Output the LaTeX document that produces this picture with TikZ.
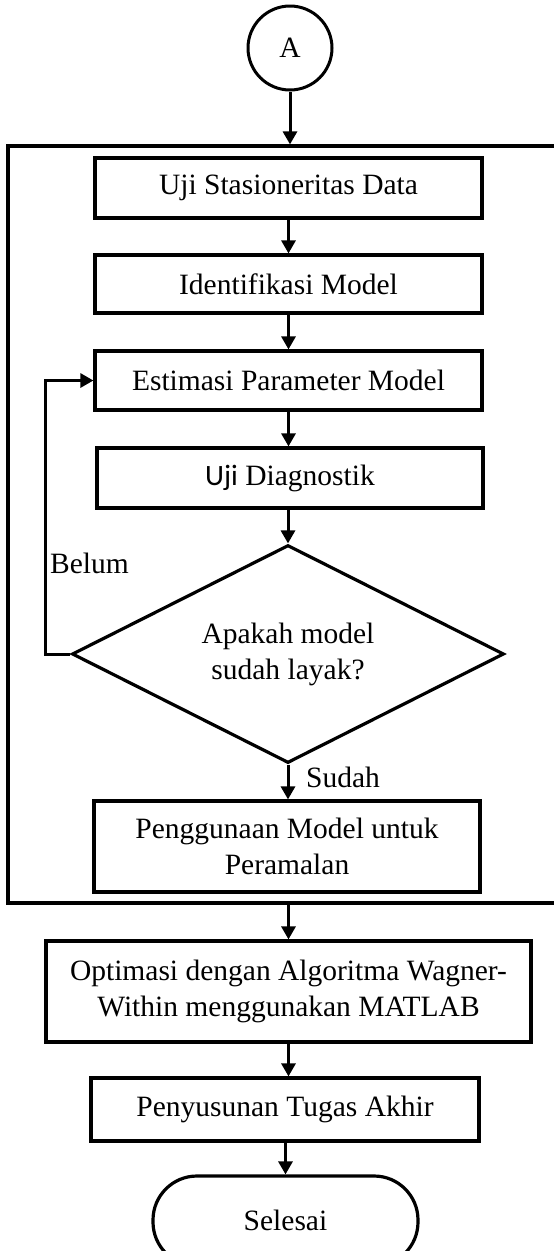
\documentclass[tikz,border=0pt]{standalone}
\usepackage{fontspec}
\setmainfont{Liberation Serif}
\newfontfamily\calib{Carlito}
\usetikzlibrary{arrows.meta,shapes.geometric}
\begin{document}
\begin{tikzpicture}[x=1pt,y=-1pt,
  txt/.style={font=\fontsize{29.5}{36}\selectfont},
  box/.style={draw, line width=3.2pt, align=center, inner sep=0pt, txt},
  arr/.style={-{Triangle[width=14pt,length=13pt]}, line width=3pt},
  lbl/.style={txt, inner sep=0pt}]
\useasboundingbox (0,0) rectangle (554,1251);
\clip (0,0) rectangle (554,1251);

% frame
\node[draw, line width=3.2pt, minimum width=562pt, minimum height=757pt, inner sep=0pt] (frame) at (289,524.5) {};

% start connector
\node[draw, circle, line width=3pt, minimum size=84pt, inner sep=0pt, txt] (A) at (290,48) {A};

% process boxes
\node[box, minimum width=387pt, minimum height=60pt] (b1) at (288.5,188) {Uji Stasioneritas Data};
\node[box, minimum width=387pt, minimum height=58pt] (b2) at (288.5,284) {Identifikasi Model};
\node[box, minimum width=387pt, minimum height=59pt] (b3) at (288.5,380.5) {Estimasi Parameter Model};
\node[box, minimum width=386pt, minimum height=60pt] (b4) at (290,478) {{\calib Uji} Diagnostik};
\node[draw, diamond, aspect=2, line width=3.2pt, minimum width=432pt, minimum height=218pt, inner sep=0pt, align=center, txt] (dia) at (288,654) {Apakah model\\sudah layak?};
\node[box, minimum width=386pt, minimum height=91pt] (b5) at (287,846.5) {Penggunaan Model untuk\\Peramalan};
\node[box, minimum width=485pt, minimum height=101pt] (b6) at (288.5,991.5) {Optimasi dengan Algoritma Wagner-\\Within menggunakan MATLAB};
\node[box, minimum width=388pt, minimum height=63pt] (b7) at (285,1109.5) {Penyusunan Tugas Akhir};
\node[draw, line width=3.2pt, rounded corners=44pt, minimum width=265pt, minimum height=90pt, inner sep=0pt, txt] (end) at (285.5,1221) {\raisebox{2pt}{Selesai}};

% labels
\node[lbl, anchor=west] (belum) at (50,563) {Belum};
\node[lbl, anchor=west] (sudah) at (306,777) {Sudah};

% connectors
\draw[arr] (A.south) -- (A.south |- frame.north);
\draw[arr] (b1.south) -- (b1.south |- b2.north);
\draw[arr] (b2.south) -- (b2.south |- b3.north);
\draw[arr] (b3.south) -- (b3.south |- b4.north);
\draw[arr] (b4.south -| dia.north) -- (dia.north);
\draw[arr] (dia.south) -- (dia.south |- b5.north);
\coordinate (fb) at (45,654);
\draw[arr] (dia.west) -- (fb) -- (fb |- b3.west) -- (b3.west);
\draw[arr] (b6.north |- frame.south) -- (b6.north);
\draw[arr] (b6.south) -- (b6.south |- b7.north);
\draw[arr] (b7.south -| end.north) -- (end.north);
\end{tikzpicture}
\end{document}
